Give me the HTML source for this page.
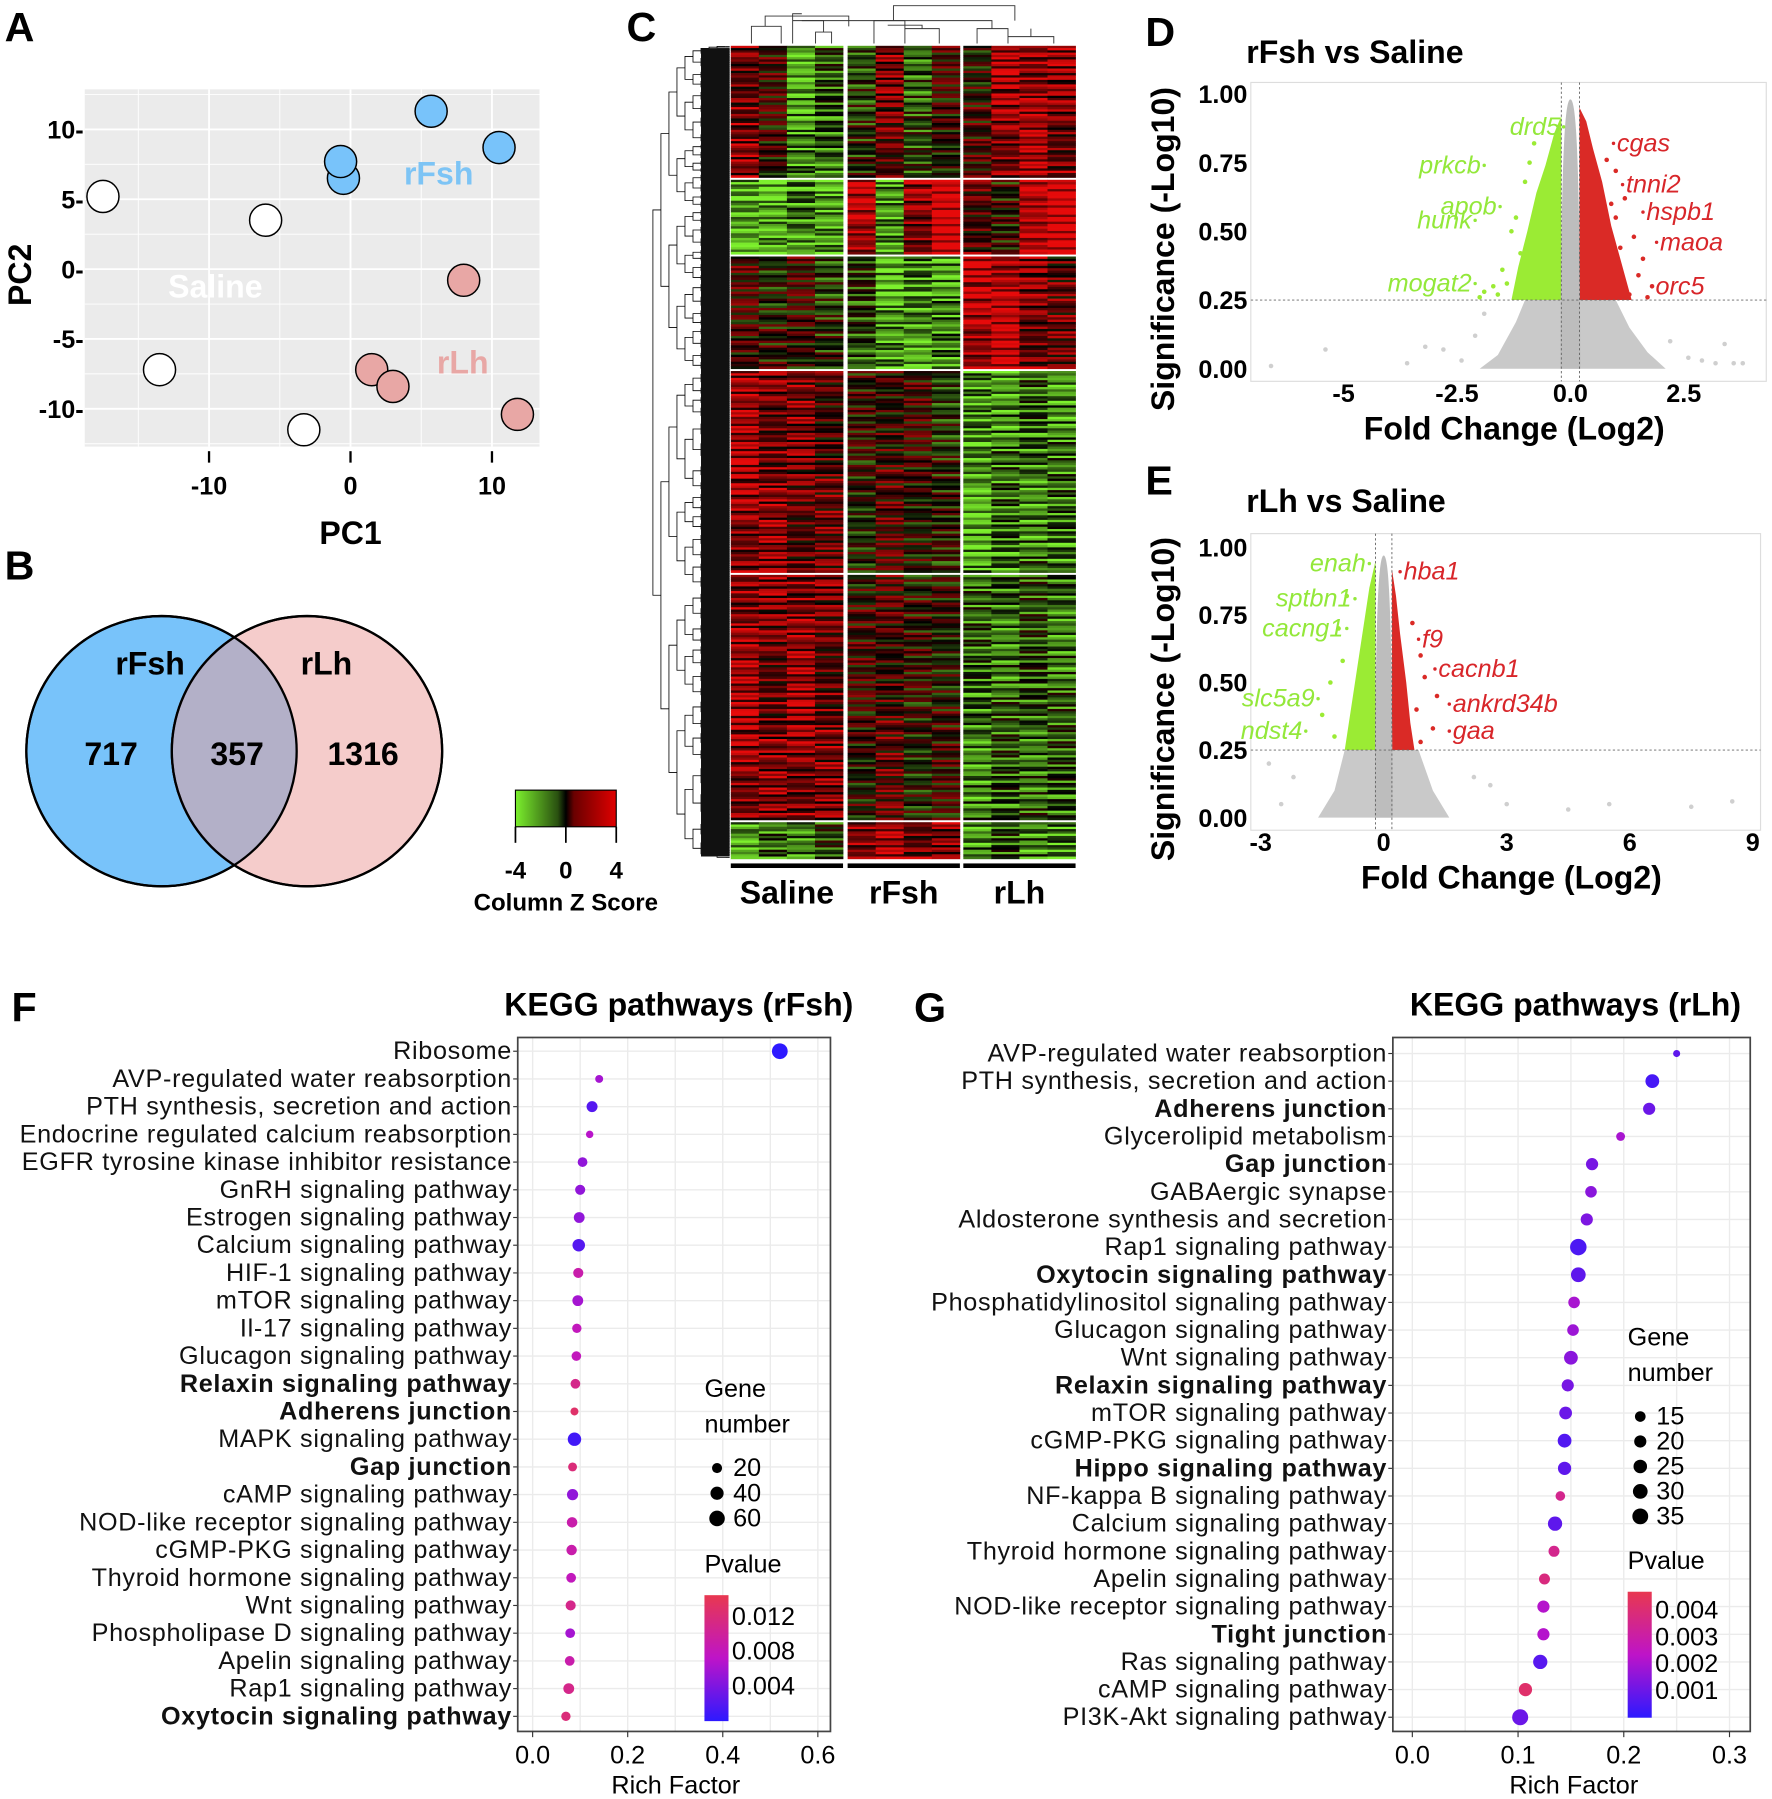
<!DOCTYPE html>
<html><head><meta charset="utf-8"><style>
html,body{margin:0;padding:0;background:#fff;}
svg{display:block;font-family:"Liberation Sans",Arial,sans-serif;}
</style></head><body>
<svg id="fig" width="1772" height="1799" viewBox="0 0 1547 1571" preserveAspectRatio="none" xmlns="http://www.w3.org/2000/svg">
<rect width="1547" height="1571" fill="#fff"/>
<g font-weight="bold" font-size="36" fill="#000">
<text x="4" y="36">A</text>
<text x="4" y="506">B</text>
<text x="547" y="36">C</text>
<text x="1000" y="40">D</text>
<text x="1000" y="432">E</text>
<text x="10" y="892">F</text>
<text x="798" y="892">G</text>
</g>
<g id="gA"></g><g id="gB"></g><g id="gC"></g><g id="gD"></g><g id="gE"></g><g id="gF"></g><g id="gG"></g>
</svg>
<script>
// ---------- Panel A data ----------
const pcaGroups = ["Saline","Saline","Saline","Saline","rFsh","rFsh","rFsh","rFsh","rLh","rLh","rLh","rLh"];
const pcaPC1 = [-17.5,-6.0,-13.5,-3.3,-0.5,-0.7,5.7,10.5,8.0,1.5,3.0,11.8];
const pcaPC2 = [5.2,3.5,-7.2,-11.5,6.5,7.7,11.3,8.7,-0.8,-7.2,-8.4,-10.4];
const pcaXTicks = [-10,0,10];
const pcaYTicks = [10,5,0,-5,-10];
// ---------- Panel B data ----------
const vennCounts = [717,357,1316];
// ---------- Panel C data ----------
const heatGroups = ["Saline","rFsh","rLh"];
const heatB1 = [1.0,0.2,-1.2,-0.8,-0.3,0.8,-0.6,0.2,0.2,1.2,1.3,1.0];
const heatB2 = [-1.5,-1.6,-1.0,-1.5,1.6,-1.4,1.2,1.8,0.7,-0.1,1.8,1.8];
const heatB3 = [0.3,0.0,0.2,-0.3,-0.5,-1.4,-1.2,-1.2,1.5,1.6,1.0,0.6];
const heatB4 = [1.2,1.0,0.8,0.6,0.0,0.4,0.2,-0.2,-1.3,-1.0,-0.9,-1.0];
const heatB5 = [1.2,0.9,1.1,0.8,0.2,0.5,0.0,0.1,-0.9,-0.8,-0.7,-0.8];
const heatB6 = [-1.2,-1.0,-0.8,-0.6,1.3,1.3,1.0,0.8,-1.0,-0.8,-0.9,-1.2];
const heatJitter = [0.9,-0.6,0.3,-1.1,0.5,1.2,-0.3,0.0,-0.9,0.7,-0.4,1.0,-1.2,0.2,0.6,-0.7,0.4,-0.2,1.1,-0.8,0.1,-1.0,0.8,-0.5,1.3];
const heatBlockRows = [58,32,48,88,106,16];
const zTicks = [-4,0,4];
// ---------- Panel D data ----------
const dGreenEnv = [[-0.2,0.25],[-0.2,0.92],[-0.35,0.86],[-0.55,0.74],[-0.75,0.64],[-0.95,0.5],[-1.15,0.37],[-1.3,0.25]];
const dRedEnv = [[0.2,0.25],[0.2,0.95],[0.35,0.9],[0.5,0.8],[0.7,0.68],[0.9,0.52],[1.1,0.4],[1.35,0.25]];
const dGreyEnv = [[-2.0,0],[-1.6,0.05],[-1.2,0.17],[-1.0,0.25],[1.0,0.25],[1.3,0.15],[1.7,0.06],[2.1,0]];
const dCoreTop = 0.98;
const dGreenPts = [[-0.8,0.82],[-1.0,0.68],[-1.3,0.5],[-1.5,0.36],[-1.7,0.3],[-1.9,0.28],[-1.2,0.55],[-1.1,0.42],[-1.4,0.31],[-0.9,0.75],[-1.6,0.27],[-2.0,0.26]];
const dRedPts = [[0.8,0.76],[1.0,0.72],[1.2,0.62],[1.0,0.55],[1.4,0.48],[1.6,0.4],[1.8,0.3],[1.5,0.34],[1.1,0.44],[1.3,0.27],[1.7,0.26],[0.9,0.6]];
const dGreyPts = [[-6.6,0.01],[-5.4,0.07],[-3.6,0.02],[-3.2,0.08],[-2.8,0.07],[-2.4,0.03],[-2.1,0.12],[-1.9,0.2],[2.2,0.1],[2.6,0.04],[3.4,0.09],[3.6,0.02],[3.8,0.02],[2.9,0.03],[3.2,0.02]];
const dGreenLabels = ["drd5","prkcb","apob","hunk","mogat2"];
const dGreenFC = [-0.15,-1.9,-1.55,-2.1,-2.1];
const dGreenSig = [0.88,0.74,0.59,0.54,0.31];
const dRedLabels = ["cgas","tnni2","hspb1","maoa","orc5"];
const dRedFC = [0.95,1.15,1.6,1.9,1.8];
const dRedSig = [0.82,0.67,0.57,0.46,0.3];
const dXTicks = [-5,-2.5,0,2.5];
const dXTickLabels = ["-5","-2.5","0.0","2.5"];
const sigTicks = [0,0.25,0.5,0.75,1.0];
const sigTickLabels = ["0.00","0.25","0.50","0.75","1.00"];
// ---------- Panel E data ----------
const eGreenEnv = [[-0.2,0.25],[-0.2,0.95],[-0.35,0.85],[-0.5,0.7],[-0.65,0.55],[-0.8,0.4],[-0.95,0.25]];
const eRedEnv = [[0.2,0.25],[0.2,0.92],[0.3,0.82],[0.4,0.68],[0.55,0.5],[0.65,0.35],[0.75,0.25]];
const eGreyEnv = [[-1.6,0],[-1.2,0.1],[-0.95,0.25],[0.85,0.25],[1.2,0.1],[1.6,0]];
const eCoreTop = 0.97;
const eGreenPts = [[-0.9,0.82],[-1.1,0.7],[-1.3,0.5],[-1.5,0.38],[-1.2,0.3],[-1.0,0.58]];
const eRedPts = [[0.7,0.72],[0.9,0.6],[1.0,0.52],[1.3,0.45],[1.2,0.33],[0.9,0.28],[0.8,0.4]];
const eGreyPts = [[-2.8,0.2],[-2.5,0.05],[-2.2,0.15],[2.2,0.15],[3.0,0.05],[4.5,0.03],[5.5,0.05],[7.5,0.04],[8.5,0.06],[2.6,0.12]];
const eGreenLabels = ["enah","sptbn1","cacng1","slc5a9","ndst4"];
const eGreenFC = [-0.35,-0.7,-0.9,-1.6,-1.9];
const eGreenSig = [0.94,0.81,0.7,0.44,0.32];
const eRedLabels = ["hba1","f9","cacnb1","ankrd34b","gaa"];
const eRedFC = [0.4,0.85,1.25,1.6,1.6];
const eRedSig = [0.91,0.66,0.55,0.42,0.32];
const eXTicks = [-3,0,3,6,9];
// ---------- Panel F data ----------
const fPathways = ["Ribosome","AVP-regulated water reabsorption","PTH synthesis, secretion and action","Endocrine regulated calcium reabsorption","EGFR tyrosine kinase inhibitor resistance","GnRH signaling pathway","Estrogen signaling pathway","Calcium signaling pathway","HIF-1 signaling pathway","mTOR signaling pathway","Il-17 signaling pathway","Glucagon signaling pathway","Relaxin signaling pathway","Adherens junction","MAPK signaling pathway","Gap junction","cAMP signaling pathway","NOD-like receptor signaling pathway","cGMP-PKG signaling pathway","Thyroid hormone signaling pathway","Wnt signaling pathway","Phospholipase D signaling pathway","Apelin signaling pathway","Rap1 signaling pathway","Oxytocin signaling pathway"];
const fBold = [12,13,15,24];
const fRich = [0.52,0.14,0.125,0.12,0.105,0.10,0.098,0.097,0.096,0.095,0.093,0.092,0.09,0.088,0.088,0.084,0.084,0.083,0.082,0.081,0.08,0.079,0.078,0.076,0.07];
const fGenes = [62,10,25,8,18,20,24,35,20,24,16,17,18,10,42,14,26,22,22,18,20,18,18,24,16];
const fPval = [0.0,0.006,0.002,0.007,0.005,0.005,0.005,0.002,0.009,0.006,0.008,0.008,0.011,0.013,0.001,0.012,0.005,0.009,0.009,0.008,0.011,0.006,0.009,0.011,0.012];
const fXTicks = [0,0.2,0.4,0.6];
const fSizeLegend = [20,40,60];
const fPLegend = [0.012,0.008,0.004];
// ---------- Panel G data ----------
const gPathways = ["AVP-regulated water reabsorption","PTH synthesis, secretion and action","Adherens junction","Glycerolipid metabolism","Gap junction","GABAergic synapse","Aldosterone synthesis and secretion","Rap1 signaling pathway","Oxytocin signaling pathway","Phosphatidylinositol signaling pathway","Glucagon signaling pathway","Wnt signaling pathway","Relaxin signaling pathway","mTOR signaling pathway","cGMP-PKG signaling pathway","Hippo signaling pathway","NF-kappa B signaling pathway","Calcium signaling pathway","Thyroid hormone signaling pathway","Apelin signaling pathway","NOD-like receptor signaling pathway","Tight junction","Ras signaling pathway","cAMP signaling pathway","PI3K-Akt signaling pathway"];
const gBold = [2,4,8,12,15,21];
const gRich = [0.25,0.227,0.224,0.197,0.17,0.169,0.165,0.157,0.157,0.153,0.152,0.15,0.147,0.145,0.144,0.144,0.14,0.135,0.134,0.125,0.124,0.124,0.121,0.107,0.102];
const gGenes = [6,26,20,10,20,18,20,38,30,18,18,26,20,22,26,24,12,28,16,16,20,20,28,24,36];
const gPval = [0.0008,0.0004,0.001,0.002,0.0012,0.0015,0.0013,0.0005,0.0008,0.002,0.0018,0.0015,0.0012,0.001,0.0006,0.0008,0.0035,0.0008,0.0035,0.0038,0.0022,0.0022,0.0007,0.0042,0.001];
const gXTicks = [0,0.1,0.2,0.3];
const gSizeLegend = [15,20,25,30,35];
const gPLegend = [0.004,0.003,0.002,0.001];

const NS="http://www.w3.org/2000/svg";
function mk(parent,tag,attrs,txt){const e=document.createElementNS(NS,tag);for(const k in attrs)e.setAttribute(k,attrs[k]);if(txt!==undefined)e.textContent=txt;parent.appendChild(e);return e;}

// ===== Panel A =====
(function(){
const g=document.getElementById('gA');
const x=v=>306+v*12.35, y=v=>235-v*12.2;
const bg=mk(g,'rect',{x:74,y:78,width:397,height:312,fill:'#EBEBEB'});

for(let v=-15;v<=15;v+=5){const l=mk(g,'line',{x1:x(v),x2:x(v),y1:78,y2:390,stroke:'#fff','stroke-width':v%10===0?1.6:0.8});}
for(let v=-12.5;v<=12.5;v+=2.5){const l=mk(g,'line',{x1:74,x2:471,y1:y(v),y2:y(v),stroke:'#fff','stroke-width':v%5===0?1.6:0.8});}
const gl1=mk(g,'text',{x:383,y:161,'font-size':28,'font-weight':'bold',fill:'#7DC4F5','text-anchor':'middle'},'rFsh');
const gl2=mk(g,'text',{x:188,y:260,'font-size':28,'font-weight':'bold',fill:'#fff','text-anchor':'middle'},'Saline');
const gl3=mk(g,'text',{x:404,y:326,'font-size':28,'font-weight':'bold',fill:'#E8A7A5','text-anchor':'middle'},'rLh');
const col={Saline:'#fff',rFsh:'#78C3FA',rLh:'#E8A7A5'};
pcaPC1.forEach((v,i)=>{const c=mk(g,'circle',{cx:x(v),cy:y(pcaPC2[i]),r:14,fill:col[pcaGroups[i]],stroke:'#000','stroke-width':1.3});});
pcaXTicks.forEach(v=>{const l=mk(g,'line',{x1:x(v),x2:x(v),y1:394,y2:404,stroke:'#000','stroke-width':2});
const t=mk(g,'text',{x:x(v),y:432,'font-size':22,'font-weight':'bold','text-anchor':'middle'},String(v));});
pcaYTicks.forEach(v=>{const t=mk(g,'text',{x:73,y:y(v)+8,'font-size':22,'font-weight':'bold','text-anchor':'end'},v+'-');});
const xt=mk(g,'text',{x:306,y:475,'font-size':28,'font-weight':'bold','text-anchor':'middle'},'PC1');
const yt=mk(g,'text',{x:0,y:0,'font-size':28,'font-weight':'bold','text-anchor':'middle',transform:'translate(27,240) rotate(-90)'},'PC2');
})();

// ===== Panel B =====
(function(){
const g=document.getElementById('gB');
const c1=mk(g,'circle',{cx:141,cy:656,r:118,fill:'#78C3FA',stroke:'#000','stroke-width':2});
const c2=mk(g,'circle',{cx:268,cy:656,r:118,fill:'#F5CCCB',stroke:'#000','stroke-width':2});
const d=mk(g,'defs',{});const cp=mk(d,'clipPath',{id:'clipv'});mk(cp,'circle',{cx:141,cy:656,r:118});
const ov=mk(g,'circle',{cx:268,cy:656,r:118,fill:'#B3B0C8',stroke:'#7a4a4a','stroke-width':2,'clip-path':'url(#clipv)'});
const o2=mk(g,'circle',{cx:141,cy:656,r:118,fill:'none',stroke:'#000','stroke-width':2});
const o3=mk(g,'circle',{cx:268,cy:656,r:118,fill:'none',stroke:'#000','stroke-width':2});
[['rFsh',131,589],['rLh',285,589]].forEach(a=>{const t=mk(g,'text',{x:a[1],y:a[2],'font-size':28,'font-weight':'bold','text-anchor':'middle'},a[0]);});
const cx=[97,207,317];
vennCounts.forEach((v,i)=>{const t=mk(g,'text',{x:cx[i],y:668,'font-size':28,'font-weight':'bold','text-anchor':'middle'},String(v));});
})();

// ===== Panel C =====
function heat(z){let t=Math.max(-1,Math.min(1,z/2));if(t<0){t=-t;return `rgb(${Math.round(125*t)},${Math.round(240*t)},${Math.round(45*t)})`;}return `rgb(${Math.round(230*t)},${Math.round(10*t)},${Math.round(10*t)})`;}
(function(){
const g=document.getElementById('gC');
const blocks=[heatB1,heatB2,heatB3,heatB4,heatB5,heatB6];
const yr=[[40,155],[157,222],[224,322],[324,500],[502,716],[718,750]];
const gx=[638,740,841], gw=98, cw=gw/4;
blocks.forEach((b,bi)=>{const n=heatBlockRows[bi];const h=(yr[bi][1]-yr[bi][0])/n;
for(let c=0;c<12;c++){const gi=Math.floor(c/4);const x0=gx[gi]+(c%4)*cw;
for(let r=0;r<n;r++){const z=b[c]+heatJitter[(r*3+c*7+bi*5+Math.floor(r/4)*2)%heatJitter.length]*0.9;
const rc=mk(g,'rect',{x:x0,y:yr[bi][0]+r*h,width:cw+0.3,height:h+0.3,fill:heat(z)});}}});
// left dendrogram (decorative)
const dg=mk(g,'g',{stroke:'#000','stroke-width':0.7,fill:'none'});
function tree(y0,y1,depth){const mid=(y0+y1)/2;const xx=570+depth*7;if(depth>=9||y1-y0<2.5){mk(dg,'line',{x1:xx,x2:637,y1:mid,y2:mid});return mid;}
const s=y0+(y1-y0)*(0.4+0.2*((depth*7+Math.round(y0))%5)/4);const a=tree(y0,s,depth+1),b=tree(s,y1,depth+1);const cx=xx+7;
mk(dg,'path',{d:`M${cx},${a}H${xx}V${b}H${cx}`});return (a+b)/2;}
tree(40,750,0);
const band=mk(g,'polygon',{points:'612,42 637,42 637,748 612,748',fill:'#111'});
// top dendrogram
const td=mk(g,'g',{stroke:'#333','stroke-width':0.8,fill:'none'});
["M656,38V23H682V38 M668,23V14H741V23","M712,38V28H726V38 M719,28V18H692V38 M692,18V12H700","M763,38V18H790V38 M790,25H820V38 M805,25V22H775","M853,38V25H880V38 M880,32H920V38 M900,32V25 M866,25V18H700 M780,18V5H886V18"].forEach(p=>mk(td,'path',{d:p}));
// group labels
const lx=[687,789,890];
heatGroups.forEach((s,i)=>{const l=mk(g,'rect',{x:gx[i],y:754,width:gw,height:4,fill:'#000'});
const t=mk(g,'text',{x:lx[i],y:789,'font-size':28,'font-weight':'bold','text-anchor':'middle'},s);});
// colour key
const d=mk(g,'defs',{});const lg=mk(d,'linearGradient',{id:'zg',x1:0,x2:1,y1:0,y2:0});
mk(lg,'stop',{offset:'0',['stop-color']:'#7CF02D'});mk(lg,'stop',{offset:'0.42',['stop-color']:'#2a5010'});mk(lg,'stop',{offset:'0.5',['stop-color']:'#000'});mk(lg,'stop',{offset:'0.58',['stop-color']:'#6a0000'});mk(lg,'stop',{offset:'1',['stop-color']:'#E00000'});
const key=mk(g,'rect',{x:450,y:690,width:88,height:32,fill:'url(#zg)',stroke:'#000','stroke-width':1});
const zx=v=>494+v*11;
zTicks.forEach(v=>{mk(g,'line',{x1:zx(v),x2:zx(v),y1:722,y2:736,stroke:'#000','stroke-width':1.5});const t=mk(g,'text',{x:zx(v),y:767,'font-size':21,'font-weight':'bold','text-anchor':'middle'},String(v));});
const kt=mk(g,'text',{x:494,y:795,'font-size':21,'font-weight':'bold','text-anchor':'middle'},'Column Z Score');
})();

// ===== Volcano helper =====
function volcano(gid,o){
const g=document.getElementById(gid);
const x=o.x,y=o.y;
const t=mk(g,'text',{x:o.titleX,y:o.titleY,'font-size':28,'font-weight':'bold'},o.title);
const box=mk(g,'rect',{x:o.L,y:o.T,width:o.R-o.L,height:o.B-o.T,fill:'#fff',stroke:'#ddd'});
const poly=(env,fill,name)=>{const p=mk(g,'polygon',{points:env.map(e=>x(e[0])+','+y(e[1])).join(' '),fill:fill});};
poly(o.grey,'#C9C9C9','volcano-nonsig-cloud');
poly(o.green,'#9BEB34','volcano-down-cloud');
poly(o.red,'#DA2A26','volcano-up-cloud');
const core=mk(g,'path',{d:`M${x(-0.22)},${y(0)} C${x(-0.2)},${y(o.core*0.7)} ${x(-0.15)},${y(o.core)} ${x(0)},${y(o.core)} C${x(0.15)},${y(o.core)} ${x(0.2)},${y(o.core*0.7)} ${x(0.22)},${y(0)} Z`,fill:'#BDBDBD'});
const pts=(arr,fill,name)=>arr.forEach(p=>{const c=mk(g,'circle',{cx:x(p[0]),cy:y(p[1]),r:2,fill:fill});});
pts(o.greyPts,'#CFCFCF','volcano-point-nonsig');pts(o.greenPts,'#9BEB34','volcano-point-down');pts(o.redPts,'#DA2A26','volcano-point-up');
[-0.2,0.2].forEach(v=>{const l=mk(g,'line',{x1:x(v),x2:x(v),y1:o.T,y2:o.B,stroke:'#666','stroke-dasharray':'2,2','stroke-width':0.8});});
const hl=mk(g,'line',{x1:o.L,x2:o.R,y1:y(0.25),y2:y(0.25),stroke:'#666','stroke-dasharray':'2,2','stroke-width':0.8});
const lab=(names,fc,sg,col,anchor,dx)=>names.forEach((n,i)=>{const c=mk(g,'circle',{cx:x(fc[i]),cy:y(sg[i]),r:1.5,fill:col});
const tt=mk(g,'text',{x:x(fc[i])+dx,y:y(sg[i])+7,'font-size':22,'font-style':'italic',fill:col,'text-anchor':anchor},n);});
lab(o.gL,o.gF,o.gS,'#93E83A','end',-3);lab(o.rL,o.rF,o.rS,'#D8262A','start',3);
o.xt.forEach((v,i)=>{const tx=mk(g,'text',{x:x(v),y:o.B+18,'font-size':22,'font-weight':'bold','text-anchor':'middle'},o.xtl[i]);});
sigTicks.forEach((v,i)=>{const ty=mk(g,'text',{x:o.L-3,y:y(v)+8,'font-size':22,'font-weight':'bold','text-anchor':'end'},sigTickLabels[i]);});
const xa=mk(g,'text',{x:(o.L+o.R)/2+5,y:o.B+51,'font-size':28,'font-weight':'bold','text-anchor':'middle'},'Fold Change (Log2)');
const ya=mk(g,'text',{x:0,y:0,'font-size':28,'font-weight':'bold','text-anchor':'middle',transform:`translate(1025,${(o.T+o.B)/2+15}) rotate(-90)`},'Significance (-Log10)');
}
volcano('gD',{x:v=>1371+v*39.6,y:s=>322-s*240,L:1092,R:1542,T:72,B:333,title:'rFsh vs Saline',titleX:1088,titleY:55,
grey:dGreyEnv,green:dGreenEnv,red:dRedEnv,core:dCoreTop,greyPts:dGreyPts,greenPts:dGreenPts,redPts:dRedPts,
gL:dGreenLabels,gF:dGreenFC,gS:dGreenSig,rL:dRedLabels,rF:dRedFC,rS:dRedSig,xt:dXTicks,xtl:dXTickLabels});
volcano('gE',{x:v=>1208+v*35.8,y:s=>714-s*236,L:1092,R:1537,T:466,B:725,title:'rLh vs Saline',titleX:1088,titleY:447,
grey:eGreyEnv,green:eGreenEnv,red:eRedEnv,core:eCoreTop,greyPts:eGreyPts,greenPts:eGreenPts,redPts:eRedPts,
gL:eGreenLabels,gF:eGreenFC,gS:eGreenSig,rL:eRedLabels,rF:eRedFC,rS:eRedSig,xt:eXTicks,xtl:eXTicks.map(String)});

// ===== KEGG helper =====
function pcol(t){t=Math.max(0,Math.min(1,t));const a=[45,25,255],m=[190,20,200],b=[232,56,80];let c;
if(t<0.5){const u=t/0.5;c=a.map((v,i)=>v+(m[i]-v)*u);}else{const u=(t-0.5)/0.5;c=m.map((v,i)=>v+(b[i]-v)*u);}return `rgb(${c.map(Math.round).join(',')})`;}
function kegg(gid,o){
const g=document.getElementById(gid);
const x=v=>o.x0+v*o.k;const y=i=>o.y0+i*o.step;
const tt=mk(g,'text',{x:o.titleR,y:887,'font-size':28,'font-weight':'bold','text-anchor':'end'},o.title);
const box=mk(g,'rect',{x:o.L,y:906,width:o.R-o.L,height:606,fill:'#fff'});
for(let v=0;v<=o.maxX+1e-9;v+=o.minor){const l=mk(g,'line',{x1:x(v),x2:x(v),y1:906,y2:1512,stroke:'#EBEBEB','stroke-width':1.2});}
o.names.forEach((n,i)=>{const l=mk(g,'line',{x1:o.L,x2:o.R,y1:y(i),y2:y(i),stroke:'#EBEBEB','stroke-width':1.2});
const t=mk(g,'text',{x:o.L-5,y:y(i)+7,'font-size':22,'letter-spacing':0.6,'font-weight':o.bold.includes(i)?'bold':'normal','text-anchor':'end',fill:'#111'},n);
mk(g,'line',{x1:o.L-4,x2:o.L,y1:y(i),y2:y(i),stroke:'#333'});
const c=mk(g,'circle',{cx:x(o.rich[i]),cy:y(i),r:o.rad(o.genes[i]),fill:pcol(o.pv[i]/o.pmax)});});
const fr=mk(g,'rect',{x:o.L,y:906,width:o.R-o.L,height:606,fill:'none',stroke:'#444','stroke-width':1.5});
o.xt.forEach(v=>{mk(g,'line',{x1:x(v),x2:x(v),y1:1512,y2:1517,stroke:'#333'});const t=mk(g,'text',{x:x(v),y:1540,'font-size':22,'text-anchor':'middle'},v.toFixed(1));});
const xa=mk(g,'text',{x:o.xlab,y:1566,'font-size':22,'text-anchor':'middle'},'Rich Factor');
const lg=o.leg;
const l1=mk(g,'text',{x:lg.x,y:lg.y,'font-size':22},'Gene');
const l2=mk(g,'text',{x:lg.x,y:lg.y+31,'font-size':22},'number');
o.sizes.forEach((s,i)=>{const yy=lg.y+62+i*o.sizeStep;const c=mk(g,'circle',{cx:lg.x+11,cy:yy,r:o.rad(s),fill:'#000'});
const t=mk(g,'text',{x:lg.x+25,y:yy+7,'font-size':22},String(s));});
const p1=mk(g,'text',{x:lg.x,y:lg.py,'font-size':22},'Pvalue');
const d=mk(g,'defs',{});const gr=mk(d,'linearGradient',{id:gid+'pg',x1:0,x2:0,y1:0,y2:1});
mk(gr,'stop',{offset:'0',['stop-color']:pcol(1)});mk(gr,'stop',{offset:'0.5',['stop-color']:pcol(0.5)});mk(gr,'stop',{offset:'1',['stop-color']:pcol(0)});
const cb=mk(g,'rect',{x:lg.x,y:lg.py+20,width:21,height:110,fill:`url(#${gid}pg)`});
o.plabs.forEach(v=>{const yy=lg.py+130-110*(v/o.pmax);const t=mk(g,'text',{x:lg.x+24,y:yy+7,'font-size':22},String(v));});
}
kegg('gF',{names:fPathways,bold:fBold,rich:fRich,genes:fGenes,pv:fPval,pmax:0.0145,x0:465,k:415,y0:918,step:24.2,L:452,R:725,maxX:0.65,minor:0.1,xt:fXTicks,
title:'KEGG pathways (rFsh)',titleR:745,xlab:590,rad:n=>1.2+0.72*Math.sqrt(n),sizes:fSizeLegend,sizeStep:22,plabs:fPLegend,leg:{x:615,y:1220,py:1373}});
kegg('gG',{names:gPathways,bold:gBold,rich:gRich,genes:gGenes,pv:gPval,pmax:0.0047,x0:1233,k:923,y0:920,step:24.15,L:1216,R:1528,maxX:0.31,minor:0.05,xt:gXTicks,
title:'KEGG pathways (rLh)',titleR:1520,xlab:1374,rad:n=>0.4+1.1*Math.sqrt(n),sizes:gSizeLegend,sizeStep:21.8,plabs:gPLegend,leg:{x:1421,y:1175,py:1370}});
</script>
</body></html>
